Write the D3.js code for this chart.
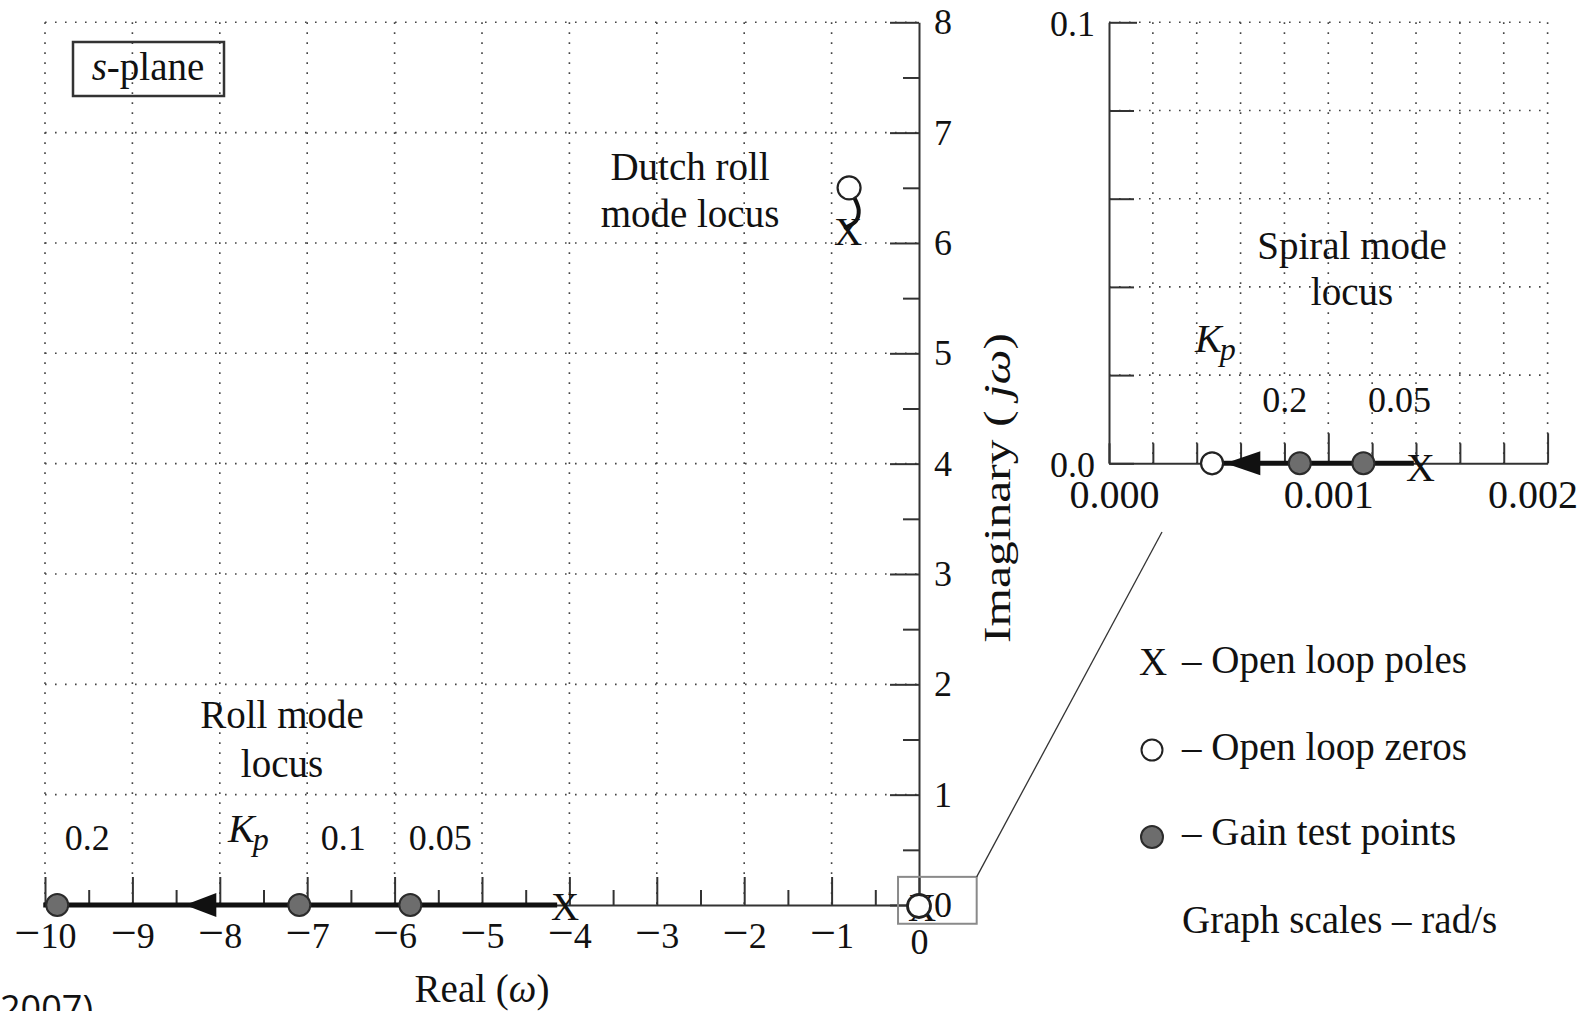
<!DOCTYPE html>
<html><head><meta charset="utf-8">
<script src="https://cdn.jsdelivr.net/npm/d3@7"></script>
<style>
html,body{margin:0;padding:0;background:#fff;overflow:hidden}
svg{display:block}
text{font-family:"Liberation Serif","Times New Roman",serif;fill:#111}
.grid{stroke:#444;stroke-width:1.6;stroke-dasharray:1.6 8.4;fill:none}
</style></head><body>
<svg id="c" width="1580" height="1011"></svg>
<script>
// ---------------- data ----------------
const mainRealTicks = [-10,-9,-8,-7,-6,-5,-4,-3,-2,-1,0];
const mainRealMinor = [-9.5,-8.5,-7.5,-6.5,-5.5,-4.5,-3.5,-2.5,-1.5,-0.5];
const mainImagTicks = [0,1,2,3,4,5,6,7,8];
const mainImagMinor = [0.5,1.5,2.5,3.5,4.5,5.5,6.5,7.5];
const mainGridRe = [-10,-9,-8,-7,-6,-5,-4,-3,-2,-1];
const mainGridIm = [1,2,3,4,5,6,7,8];

const rollGainRe = [-9.86,-7.09,-5.82];
const rollGainK = ["0.2","0.1","0.05"];
const rollLocusRe = [-10.02,-4.14];
const rollArrowRe = [-8.40,-8.04];
const rollPoleRe = -4.05;

const dutchZero = [-0.80,6.50];
const dutchPole = [-0.81,6.10];
const dutchLocus = [[-0.74,6.41],[-0.69,6.30],[-0.72,6.20],[-0.84,6.14]];

const originZero = [0,0];
const originPole = [0.0014,0];
const zoomBox = {re:[-0.24,0.66], im:[-0.17,0.255]};

const spiralXTicks = [0,0.0002,0.0004,0.0006,0.0008,0.001,0.0012,0.0014,0.0016,0.0018,0.002];
const spiralXMajor = [0.001,0.002];
const spiralXLabelValues = [0,0.001,0.002];
const spiralXLabels = ["0.000","0.001","0.002"];
const spiralYTicks = [0,0.02,0.04,0.06,0.08,0.1];
const spiralYLabelValues = [0,0.1];
const spiralYLabels = ["0.0","0.1"];
const spiralGridIm = [0.02,0.04,0.06,0.08,0.1];

const spiralZeroRe = 0.00047;
const spiralPoleRe = 0.00142;
const spiralGainRe = [0.00087,0.00116];
const spiralGainK = ["0.2","0.05"];
const spiralArrowRe = [0.00053,0.00069];
const spiralLocusRe = [0.00047,0.00139];

const legendItems = ["– Open loop poles","– Open loop zeros","– Gain test points"];
const scaleNote = "Graph scales – rad/s";

// ---------------- scales ----------------
const x = d3.scaleLinear().domain([-10,0]).range([45,919]);
const y = d3.scaleLinear().domain([0,8]).range([905,22.3]);
const xi = d3.scaleLinear().domain([0,0.002]).range([1109,1547.6]);
const yi = d3.scaleLinear().domain([0,0.1]).range([463.3,22.3]);

const svg = d3.select("#c");
const INK = "#111", AX = "#333", GRAY = "#6d6d6d";

// ---------------- grids ----------------
const g0 = svg.append("g");
g0.selectAll("line.v").data(mainGridRe).join("line").attr("class","grid")
  .attr("x1",d=>x(d)).attr("x2",d=>x(d)).attr("y1",y(8)).attr("y2",y(0));
g0.selectAll("line.h").data(mainGridIm).join("line").attr("class","grid")
  .attr("x1",x(-10)).attr("x2",x(0)).attr("y1",d=>y(d)).attr("y2",d=>y(d));
g0.selectAll("line.vi").data(spiralXTicks.slice(1)).join("line").attr("class","grid")
  .attr("x1",d=>xi(d)).attr("x2",d=>xi(d)).attr("y1",yi(0.1)).attr("y2",yi(0));
g0.selectAll("line.hi").data(spiralGridIm).join("line").attr("class","grid")
  .attr("x1",xi(0)).attr("x2",xi(0.002)).attr("y1",d=>yi(d)).attr("y2",d=>yi(d));

function styleAxis(g, fs){
  g.attr("color",AX).attr("font-size",fs).attr("font-family",'"Liberation Serif","Times New Roman",serif');
  g.selectAll("path.domain").attr("stroke-width",2);
  g.selectAll(".tick line").attr("stroke-width",2);
  g.selectAll(".tick text").attr("fill",INK);
}

// ---------------- main axes ----------------
const gx = svg.append("g").attr("transform",`translate(0,${y(0)})`)
  .call(d3.axisBottom(x).tickValues(mainRealTicks).tickSize(-28).tickSizeOuter(0).tickPadding(17)
    .tickFormat(d => String(Math.abs(d))));
styleAxis(gx,36);
gx.selectAll(".tick text").each(function(d){
  if(d<0){
    const t = d3.select(this); t.text(null);
    t.append("tspan").attr("font-size",46).text("\u2212");
    t.append("tspan").text(Math.abs(d));
  }
});
gx.selectAll(".tick text").filter(d=>d===0).attr("dy","0.9em");
const gxm = svg.append("g").attr("transform",`translate(0,${y(0)})`)
  .call(d3.axisBottom(x).tickValues(mainRealMinor).tickSize(-15).tickSizeOuter(0).tickFormat(""));
styleAxis(gxm,36); gxm.select(".domain").remove();

const gy = svg.append("g").attr("transform",`translate(${x(0)},0)`)
  .call(d3.axisRight(y).tickValues(mainImagTicks).tickSize(-29).tickSizeOuter(0).tickPadding(15)
    .tickFormat(d3.format("d")));
styleAxis(gy,36);
const gym = svg.append("g").attr("transform",`translate(${x(0)},0)`)
  .call(d3.axisRight(y).tickValues(mainImagMinor).tickSize(-16).tickSizeOuter(0).tickFormat(""));
styleAxis(gym,36); gym.select(".domain").remove();

// ---------------- inset axes ----------------
const gxi = svg.append("g").attr("transform",`translate(0,${yi(0)})`)
  .call(d3.axisBottom(xi).tickValues(spiralXTicks).tickSize(-20).tickSizeOuter(0).tickPadding(16)
    .tickFormat(d => { const k = spiralXLabelValues.findIndex(v=>Math.abs(v-d)<1e-9); return k<0?"":spiralXLabels[k]; }));
styleAxis(gxi,40);
gxi.selectAll(".tick line").filter(d=>spiralXMajor.some(v=>Math.abs(v-d)<1e-9)).attr("y2",-30);
gxi.selectAll(".tick text").filter(d=>Math.abs(d-0.002)<1e-9).attr("dx",-15);
gxi.selectAll(".tick text").filter(d=>d===0).attr("dx",5);

const gyi = svg.append("g").attr("transform",`translate(${xi(0)},0)`)
  .call(d3.axisLeft(yi).tickValues(spiralYTicks).tickSize(-25).tickSizeOuter(0).tickPadding(14)
    .tickFormat(d => { const k = spiralYLabelValues.findIndex(v=>Math.abs(v-d)<1e-9); return k<0?"":spiralYLabels[k]; }));
styleAxis(gyi,36);
gyi.selectAll(".tick line").filter(d=>Math.abs(d-0.1)<1e-9).attr("x2",28);
gyi.selectAll(".tick text").attr("dy","0.38em");

// ---------------- zoom box + connector ----------------
svg.append("rect").attr("x",x(zoomBox.re[0])).attr("y",y(zoomBox.im[1]))
  .attr("width",x(zoomBox.re[1])-x(zoomBox.re[0])).attr("height",y(zoomBox.im[0])-y(zoomBox.im[1]))
  .attr("fill","none").attr("stroke","#8a8a8a").attr("stroke-width",2);
svg.append("line").attr("x1",x(zoomBox.re[1])).attr("y1",y(zoomBox.im[1]))
  .attr("x2",1162).attr("y2",532).attr("stroke","#333").attr("stroke-width",1.3);

// ---------------- helpers ----------------
function arrowLeft(g, xt, xb, yc, h){
  g.append("path").attr("d",`M${xt},${yc}L${xb},${yc-h}L${xb},${yc+h}Z`).attr("fill",INK);
}
function poleX(g, px, py, fs){
  g.append("text").attr("x",px).attr("y",py).attr("dy","0.33em").attr("text-anchor","middle")
    .attr("font-size",fs).text("X");
}

// ---------------- roll mode ----------------
const gr = svg.append("g");
gr.append("line").attr("x1",x(rollLocusRe[0])).attr("x2",x(rollLocusRe[1]))
  .attr("y1",y(0)).attr("y2",y(0)).attr("stroke",INK).attr("stroke-width",5);
arrowLeft(gr, x(rollArrowRe[0]), x(rollArrowRe[1]), y(0), 12);
poleX(gr, x(rollPoleRe), y(0)+2, 39);
gr.selectAll("circle").data(rollGainRe).join("circle")
  .attr("cx",d=>x(d)).attr("cy",y(0)).attr("r",11)
  .attr("fill",GRAY).attr("stroke","#2b2b2b").attr("stroke-width",2);
const rollDx = [30,44,30];
gr.selectAll("text.k").data(rollGainK).join("text").attr("class","k")
  .attr("x",(d,i)=>x(rollGainRe[i])+rollDx[i]).attr("y",850).attr("text-anchor","middle")
  .attr("font-size",36).text(d=>d);

// ---------------- dutch roll ----------------
const gd = svg.append("g");
gd.append("path").attr("d",d3.line().x(d=>x(d[0])).y(d=>y(d[1])).curve(d3.curveCatmullRom)(dutchLocus))
  .attr("fill","none").attr("stroke",INK).attr("stroke-width",4).attr("stroke-linecap","round");
poleX(gd, x(dutchPole[0]), y(dutchPole[1]), 39);
gd.append("circle").attr("cx",x(dutchZero[0])).attr("cy",y(dutchZero[1])).attr("r",11.5)
  .attr("fill","#fff").attr("stroke","#222").attr("stroke-width",2.2);

// ---------------- origin ----------------
poleX(svg, x(originPole[0])+3, y(originPole[1])+3, 39);
svg.append("circle").attr("cx",x(originZero[0])).attr("cy",y(originZero[1])+1).attr("r",11.5)
  .attr("fill","#fff").attr("stroke","#222").attr("stroke-width",2.8);

// ---------------- spiral (inset) ----------------
const gs = svg.append("g");
gs.append("line").attr("x1",xi(spiralLocusRe[0])).attr("x2",xi(spiralLocusRe[1]))
  .attr("y1",yi(0)).attr("y2",yi(0)).attr("stroke",INK).attr("stroke-width",5);
arrowLeft(gs, xi(spiralArrowRe[0]), xi(spiralArrowRe[1]), yi(0), 12);
poleX(gs, xi(spiralPoleRe), yi(0)+4, 40);
gs.selectAll("circle.g").data(spiralGainRe).join("circle").attr("class","g")
  .attr("cx",d=>xi(d)).attr("cy",yi(0)).attr("r",11)
  .attr("fill",GRAY).attr("stroke","#2b2b2b").attr("stroke-width",2);
gs.append("circle").attr("cx",xi(spiralZeroRe)).attr("cy",yi(0)).attr("r",11)
  .attr("fill","#fff").attr("stroke","#222").attr("stroke-width",2.2);
const spDx = [-15,36];
gs.selectAll("text.k").data(spiralGainK).join("text").attr("class","k")
  .attr("x",(d,i)=>xi(spiralGainRe[i])+spDx[i]).attr("y",412).attr("text-anchor","middle")
  .attr("font-size",36).text(d=>d);

// ---------------- annotations ----------------
function kp(px, py){
  const t = svg.append("text").attr("x",px).attr("y",py).attr("font-size",40).attr("font-style","italic");
  t.append("tspan").text("K");
  t.append("tspan").attr("font-size",32).attr("dx",-2).attr("dy",8).text("p");
}
kp(228, 842);
kp(1195, 352);

function lines(cx, ys, arr, fs){
  arr.forEach((s,i)=>svg.append("text").attr("x",cx).attr("y",ys[i]).attr("text-anchor","middle")
    .attr("font-size",fs).text(s));
}
lines(690, [180,227], ["Dutch roll","mode locus"], 39);
lines(282, [728,777], ["Roll mode","locus"], 39);
lines(1352, [259,305], ["Spiral mode","locus"], 39);

// s-plane box
svg.append("rect").attr("x",73).attr("y",42).attr("width",151).attr("height",54)
  .attr("fill","none").attr("stroke","#333").attr("stroke-width",2.5);
const sp = svg.append("text").attr("x",148).attr("y",80).attr("text-anchor","middle").attr("font-size",39);
sp.append("tspan").attr("font-style","italic").text("s");
sp.append("tspan").text("-plane");

// axis titles
const rt = svg.append("text").attr("x",482).attr("y",1002).attr("text-anchor","middle").attr("font-size",39);
rt.append("tspan").text("Real (");
rt.append("tspan").attr("font-style","italic").text("ω");
rt.append("tspan").text(")");

const it = svg.append("text").attr("transform","translate(1010,488) rotate(-90)")
  .attr("text-anchor","middle").attr("font-size",38)
  .attr("textLength",310).attr("lengthAdjust","spacingAndGlyphs");
it.append("tspan").text("Imaginary ( ");
it.append("tspan").attr("font-style","italic").text("jω");
it.append("tspan").text(")");

// ---------------- legend ----------------
const lg = svg.append("g");
poleX(lg, 1153, 662, 39);
lg.append("circle").attr("cx",1152).attr("cy",750).attr("r",10.5)
  .attr("fill","#fff").attr("stroke","#222").attr("stroke-width",2);
lg.append("circle").attr("cx",1152).attr("cy",837).attr("r",11)
  .attr("fill",GRAY).attr("stroke","#2b2b2b").attr("stroke-width",2);
const lgY = [673,760,845];
lg.selectAll("text.li").data(legendItems).join("text").attr("class","li")
  .attr("x",1182).attr("y",(d,i)=>lgY[i]).attr("font-size",39).text(d=>d);
lg.append("text").attr("x",1182).attr("y",933).attr("font-size",39).text(scaleNote);

// citation fragment
svg.append("text").attr("x",93).attr("y",1021).attr("text-anchor","end")
  .style("font-family",'"Open Sans","Liberation Sans",sans-serif').attr("font-size",36).attr("fill","#000")
  .text("(2007)");
</script>
</body></html>
